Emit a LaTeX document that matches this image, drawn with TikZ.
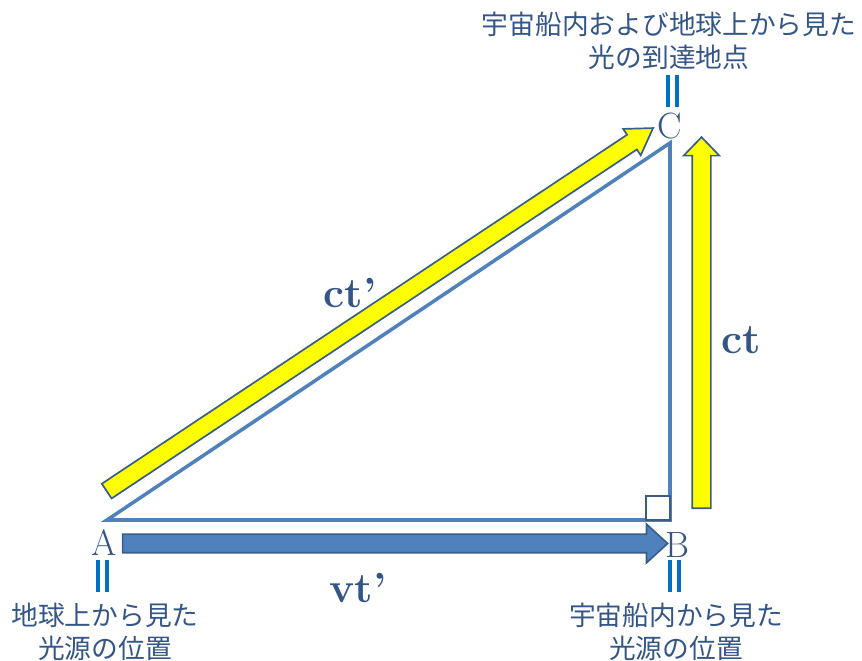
\documentclass[tikz,border=0pt]{standalone}
\usepackage{fontspec}
\usepackage{tikz}
\usepackage{xcolor}
\usetikzlibrary{shapes.arrows,positioning}
\newfontfamily\jpfont{Noto Sans CJK JP}
\definecolor{lineblue}{RGB}{79,129,189}
\definecolor{edgeblue}{RGB}{56,93,138}
\definecolor{textblue}{RGB}{52,85,135}
\definecolor{barblue}{RGB}{0,112,192}
\definecolor{lightyellow}{RGB}{255,255,0}
\newcommand{\pxl}{0.025cm}

\begin{document}
\begin{tikzpicture}[x=0.025cm,y=-0.025cm]
  \tikzset{
    tri/.style={draw=lineblue,line width=2.5pt},
    corner/.style={draw=edgeblue,line width=1.4pt,fill=white},
    blockarrow/.style={single arrow,draw=edgeblue,line width=1.2pt,inner xsep=0pt,minimum width=0pt,anchor=center},
    vlabel/.style={text=textblue,font=\fontsize{26}{28}\selectfont,inner sep=0pt},
    qlabel/.style={text=textblue,font=\fontsize{30}{32}\selectfont\bfseries,inner sep=0pt},
    note/.style={text=textblue,font=\jpfont\fontsize{19}{23}\selectfont,align=center,inner sep=0pt},
    eqbar/.style={draw=barblue,line width=2.8pt}
  }
  \useasboundingbox (0,0) rectangle (862,661);
  \coordinate (pA) at (107,520);
  \coordinate (pB) at (670,520);
  \coordinate (pC) at (670,143);
  \draw[tri] (pA) -- (pB) -- (pC) -- cycle;
  \draw[corner] (646,496) rectangle (pB);
  \node[blockarrow,fill=lightyellow,rotate=33.6,minimum height={656*\pxl},inner ysep={8*\pxl},single arrow head extend={7*\pxl},single arrow tip angle=64] (diag) at (374,313.5) {};
  \node[blockarrow,fill=lightyellow,rotate=90,minimum height={371*\pxl},inner ysep={8.5*\pxl},single arrow head extend={8.5*\pxl},single arrow tip angle=88] (vert) at (701.5,327.5) {};
  \node[blockarrow,fill=lineblue,minimum height={545*\pxl},inner ysep={8.5*\pxl},single arrow head extend={10*\pxl},single arrow tip angle=85] (horz) at (390,543.5) {};
  \node[vlabel] (lA) at (104,543) {A};
  \node[vlabel] (lB) at (677,545) {B};
  \node[vlabel] (lC) at (670,126) {C};
  \node[qlabel] (qdiag) at (350,293) {ct’};
  \node[qlabel] (qvert) at (741,340) {ct};
  \node[qlabel] (qhorz) at (358,588) {vt’};
  \foreach \bx/\by in {98/560,670/560,668/75}{
    \draw[eqbar] (\bx,\by) -- ++(0,32);
    \draw[eqbar] (\bx+9,\by) -- ++(0,32);
  }
  \node[note] (noteA) at (105,632) {地球上から見た\\光源の位置};
  \node[note] (noteB) at (676,632) {宇宙船内から見た\\光源の位置};
  \node[note] (noteC) at (669,41) {宇宙船内および地球上から見た\\光の到達地点};
\end{tikzpicture}
\end{document}
